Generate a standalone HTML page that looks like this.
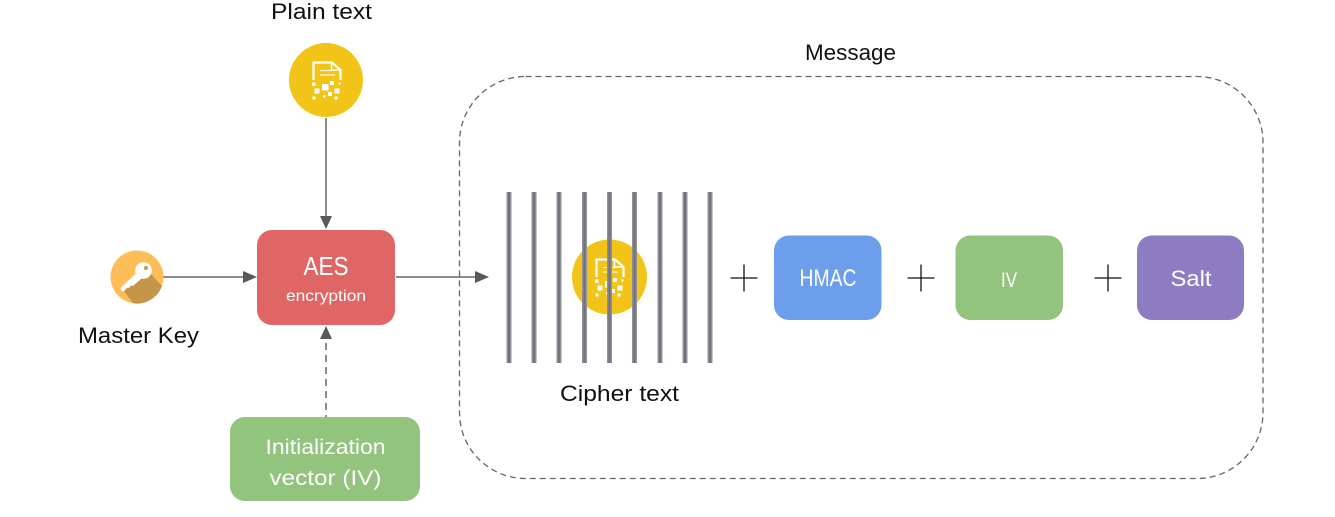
<!DOCTYPE html>
<html>
<head>
<meta charset="utf-8">
<style>
html,body{margin:0;padding:0;background:#fff;width:1335px;height:517px;overflow:hidden}
svg{display:block}
text{font-family:"Liberation Sans",sans-serif}
.k{fill:#111}
.w{fill:#fff;text-anchor:middle}
</style>
</head>
<body>
<svg width="1335" height="517" viewBox="0 0 1335 517" xmlns="http://www.w3.org/2000/svg">
<defs>
<g id="doc">
<path d="M-12.500 1V-16.500H6L14.500 -9V1" fill="none" stroke="#fff" stroke-width="2.200"/>
<path d="M5.500 -16.500V-9H14.500" fill="none" stroke="#fff" stroke-width="1.500"/>
<path d="M-6 -8.500H7M-6 -4H9" stroke="#fff" stroke-width="1.200" opacity=".85"/>
<g fill="#fff">
<rect x="-14" y="3.500" width="3.500" height="3.500"/><rect x="4" y="2" width="4" height="4"/><rect x="12.500" y="3.500" width="2" height="2"/>
<rect x="-4" y="5" width="6.500" height="6.500"/><rect x="-11.500" y="9.500" width="5" height="5"/><rect x="8.500" y="9.500" width="5" height="5"/>
<rect x="2" y="13" width="4" height="4"/><rect x="-3" y="16" width="2.500" height="2.500"/>
<rect x="-13.500" y="17.500" width="3" height="3"/><rect x="8.500" y="17.500" width="3" height="3"/>
</g>
</g>
</defs>

<!-- Message container -->
<rect x="459.500" y="76.500" width="803.500" height="402" rx="66" ry="66" fill="none" stroke="#666" stroke-width="1.300" stroke-dasharray="6 4"/>
<text class="k" x="805" y="60" font-size="22" textLength="91" lengthAdjust="spacingAndGlyphs">Message</text>

<!-- Plain text -->
<text class="k" x="271" y="19" font-size="22" textLength="101" lengthAdjust="spacingAndGlyphs">Plain text</text>
<circle cx="326" cy="80" r="37" fill="#f1c417"/>
<use href="#doc" x="326" y="79"/>

<!-- Arrows -->
<g stroke="#666" stroke-width="1.500" fill="none">
<path d="M326 118V218"/>
<path d="M163 277H247"/>
<path d="M396 277H478"/>
<path d="M326 422V336" stroke-dasharray="7 5"/>
</g>
<g fill="#595959">
<path d="M320 216H332L326 229Z"/>
<path d="M243 271L257 277L243 283Z"/>
<path d="M475 271L489 277L475 283Z"/>
<path d="M320 339H332L326 326Z"/>
</g>

<!-- Master key -->
<circle cx="137" cy="277" r="26.500" fill="#fdbd57"/>
<path d="M124 291L146 272L150 273L162 286A26.500 26.500 0 0 1 133 303.300Z" fill="#c5964a"/>
<circle cx="143.500" cy="270.500" r="8.300" fill="#fff"/>
<path d="M120.500 288L137 272.500L142 278L133 286L131 285.500L129 288L127 287.500L124 291L121.500 291Z" fill="#fff"/>
<circle cx="146" cy="268" r="2" fill="#c9974a"/>
<text class="k" x="78" y="343" font-size="22" textLength="121" lengthAdjust="spacingAndGlyphs">Master Key</text>

<!-- AES -->
<rect x="257" y="230" width="138" height="95" rx="15" fill="#e06666"/>
<text class="w" x="326" y="275" font-size="26" textLength="45" lengthAdjust="spacingAndGlyphs">AES</text>
<text class="w" x="326" y="301" font-size="16" textLength="80" lengthAdjust="spacingAndGlyphs">encryption</text>

<!-- IV source -->
<rect x="230" y="417" width="190" height="84" rx="15" fill="#93c47d"/>
<text class="w" x="325.500" y="454" font-size="21" textLength="120" lengthAdjust="spacingAndGlyphs">Initialization</text>
<text class="w" x="325.500" y="485" font-size="21" textLength="112" lengthAdjust="spacingAndGlyphs">vector (IV)</text>

<!-- Cipher -->
<circle cx="609.500" cy="277" r="37.500" fill="#f1c417"/>
<use href="#doc" x="609" y="276"/>
<g fill="#8f8f99">
<rect x="506.500" y="192" width="5" height="171"/>
<rect x="531.500" y="192" width="5" height="171"/>
<rect x="556.500" y="192" width="5" height="171"/>
<rect x="582" y="192" width="5" height="171"/>
<rect x="607" y="192" width="5" height="171"/>
<rect x="632" y="192" width="5" height="171"/>
<rect x="657.500" y="192" width="5" height="171"/>
<rect x="682.500" y="192" width="5" height="171"/>
<rect x="707.500" y="192" width="5" height="171"/>
</g>
<g fill="#72727b">
<rect x="508" y="192" width="2" height="171"/>
<rect x="533" y="192" width="2" height="171"/>
<rect x="558" y="192" width="2" height="171"/>
<rect x="583.500" y="192" width="2" height="171"/>
<rect x="608.500" y="192" width="2" height="171"/>
<rect x="633.500" y="192" width="2" height="171"/>
<rect x="659" y="192" width="2" height="171"/>
<rect x="684" y="192" width="2" height="171"/>
<rect x="709" y="192" width="2" height="171"/>
</g>
<text class="k" x="560" y="401" font-size="22" textLength="119" lengthAdjust="spacingAndGlyphs">Cipher text</text>

<!-- Plus signs -->
<g stroke="#111" stroke-width="1.300">
<path d="M730.500 278H757.500M744 264.500V291.500"/>
<path d="M907.500 278H934.500M921 264.500V291.500"/>
<path d="M1094.500 278H1121.500M1108 264.500V291.500"/>
</g>

<!-- Message parts -->
<rect x="774" y="235.500" width="107.500" height="84.500" rx="15" fill="#6d9eeb"/>
<text class="w" x="828" y="286" font-size="24" textLength="57" lengthAdjust="spacingAndGlyphs">HMAC</text>
<rect x="955.500" y="235.500" width="107.500" height="84.500" rx="15" fill="#93c47d"/>
<text class="w" x="1009" y="287" font-size="21" textLength="16" lengthAdjust="spacingAndGlyphs">IV</text>
<rect x="1137" y="235.500" width="107" height="84.500" rx="15" fill="#8e7cc3"/>
<text class="w" x="1191" y="286" font-size="22" textLength="41" lengthAdjust="spacingAndGlyphs">Salt</text>
</svg>
</body>
</html>
